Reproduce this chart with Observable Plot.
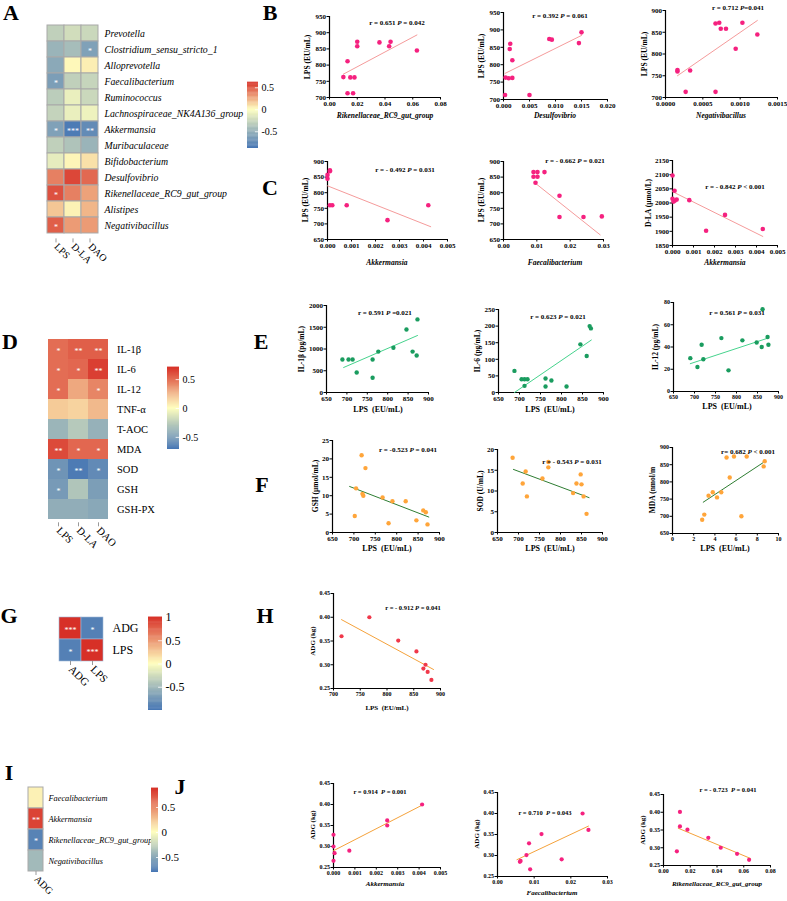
<!DOCTYPE html>
<html><head><meta charset="utf-8">
<script src="https://cdn.jsdelivr.net/npm/d3@7"></script>
<script src="https://cdn.jsdelivr.net/npm/@observablehq/plot@0.6"></script>
<style>
body{margin:0;background:#fff;}
#root{position:relative;width:787px;height:901px;overflow:hidden;background:#fff;}
</style></head>
<body><div id="root"></div>
<script>
// ---------------- DATA ----------------
// Heatmap A
const colsA = ["LPS","D-LA","DAO"];
const rowsA = ["Prevotella","Clostridium_sensu_stricto_1","Alloprevotella","Faecalibacterium","Ruminococcus","Lachnospiraceae_NK4A136_group","Akkermansia","Muribaculaceae","Bifidobacterium","Desulfovibrio","Rikenellaceae_RC9_gut_group","Alistipes","Negativibacillus"];
const A_LPS = [-0.30,-0.48,-0.55,-0.62,-0.32,-0.28,-0.60,-0.30,-0.12,0.38,0.52,0.17,0.48];
const A_DLA = [-0.22,-0.42,0.02,-0.30,-0.10,-0.10,-0.84,-0.38,0.03,0.55,0.38,0.04,0.30];
const A_DAO = [-0.25,-0.60,0.05,-0.27,-0.25,-0.08,-0.74,-0.48,0.09,0.45,0.28,0.22,0.30];
const sigA_LPS = ["","","","*","","","*","","","","*","","*"];
const sigA_DLA = ["","","","","","","***","","","","","",""];
const sigA_DAO = ["","*","","","","","**","","","","","",""];
const legA = [-0.88, 0.62], legTicksA = [0.5, 0, -0.5];
// Heatmap D
const colsD = ["LPS","D-LA","DAO"];
const rowsD = ["IL-1β","IL-6","IL-12","TNF-α","T-AOC","MDA","SOD","GSH","GSH-PX"];
const D_LPS = [0.50,0.50,0.50,0.18,-0.38,0.62,-0.55,-0.52,-0.42];
const D_DLA = [0.55,0.52,0.30,0.15,-0.28,0.52,-0.68,-0.30,-0.42];
const D_DAO = [0.55,0.66,0.42,0.24,-0.40,0.52,-0.60,-0.50,-0.45];
const sigD_LPS = ["*","*","*","","","**","*","*",""];
const sigD_DLA = ["**","*","","","","*","**","",""];
const sigD_DAO = ["**","**","*","","","*","*","",""];
const legD = [-0.71, 0.71], legTicksD = [0.5, 0, -0.5];
// Heatmap G
const colsG = ["ADG","LPS"];
const rowsG = ["ADG","LPS"];
const G_ADG = [1, -0.92];
const G_LPS = [-0.92, 1];
const sigG_ADG = ["***","*"];
const sigG_LPS = ["*","***"];
const legG = [-1, 1], legTicksG = [1, 0.5, 0, -0.5];
// Heatmap I
const colsI = ["ADG"];
const rowsI = ["Faecalibacterium","Akkermansia","Rikenellaceae_RC9_gut_group","Negativibacillus"];
const I_ADG = [0.06, 0.80, -0.72, -0.40];
const sigI_ADG = ["","**","*",""];
const legI = [-0.8, 0.88], legTicksI = [0.5, 0, -0.5];

// Scatter B
const b1x = [0.010,0.013,0.013,0.015,0.017,0.018,0.020,0.020,0.036,0.043,0.044,0.063];
const b1y = [763,812,713,762,713,762,872,858,870,858,872,845];
const b1lx = [0.010,0.063], b1ly = [772,893];
const b2x = [0.0013,0.0012,0.0017,0.0017,0.0004,0.0010,0.0003,0.0050,0.0088,0.0093,0.0145,0.0150];
const b2y = [860,845,813,762,763,761,713,713,874,872,862,893];
const b2lx = [0.0003,0.0150], b2ly = [775,884];
const b3x = [0.00016,0.00016,0.00033,0.00027,0.00067,0.00067,0.00072,0.00074,0.00081,0.00094,0.00103,0.00123];
const b3y = [763,760,762,713,713,870,872,858,858,812,872,845];
const b3lx = [0.00016,0.00123], b3ly = [750,877];
// Scatter C
const c1x = [0.0001,0.0001,0.0000,0.0000,0.0001,0.0002,0.0008,0.0025,0.0042];
const c1y = [872,869,857,845,760,760,760,712,760];
const c1lx = [0.0000,0.0043], c1ly = [822,691];
const c2x = [0.0090,0.0102,0.0123,0.0090,0.0102,0.0096,0.0168,0.0168,0.0240,0.0295];
const c2y = [866,866,866,851,851,832,790,722,722,724];
const c2lx = [0.0096,0.0290], c2ly = [830,665];
const c3x = [0.0000,0.0001,0.0000,0.0001,0.0002,0.00005,0.0008,0.0025,0.0016,0.0043];
const c3y = [2097,2043,2015,2008,2012,2005,2010,1958,1902,1908];
const c3lx = [0.0000,0.0043], c3ly = [2040,1882];
// Scatter E
const e1x = [689,704,714,763,777,814,846,861,871,873,724,763];
const e1y = [760,760,760,760,940,1030,1450,940,850,1680,460,340];
const e1lx = [692,873], e1ly = [575,1310];
const e2x = [688,705,712,719,712,762,776,762,812,867,870,845,860];
const e2y = [65,40,40,40,20,42,36,18,18,200,193,145,110];
const e2lx = [688,871], e2ly = [0,158];
const e3x = [690,717,721,764,814,848,860,862,874,876,707,781];
const e3y = [30,42,29,48,46,44,40,74,49,42,22,19];
const e3lx = [690,875], e3ly = [25,48];
// Scatter F
const f1x = [718,727,705,720,722,702,767,790,821,781,846,862,868,872];
const f1y = [21,17.5,12,10.5,10,4.5,9.5,8.5,8.5,2.5,3.3,6,5.5,2.2];
const f1lx = [690,875], f1ly = [12.5,4.2];
const f2x = [686,717,710,771,771,757,848,838,850,720,830,855,862];
const f2y = [18,14.7,11.8,17,15.7,13,14,11.8,11.6,8.7,9.5,8.7,4.5];
const f2lx = [688,868], f2ly = [15.2,8.4];
const f3x = [5.1,5.8,7.0,8.7,8.6,5.4,2.8,3.0,3.4,3.8,4.2,4.6,6.5];
const f3y = [871,874,874,860,845,813,690,705,760,770,755,770,700];
const f3lx = [2.9,8.6], f3ly = [741,857];
// Scatter H
const hx = [715,767,821,855,872,868,876,883];
const hy = [0.36,0.40,0.351,0.328,0.30,0.292,0.285,0.268];
const hlx = [715,887], hly = [0.395,0.29];
// Scatter J
const j1x = [0.00414,0.00251,0.00251,0.0000,0.0000,0.00005,0.0000,0.00074];
const j1y = [0.40,0.362,0.35,0.328,0.30,0.284,0.266,0.29];
const j1lx = [0.0000,0.0042], j1ly = [0.29,0.40];
const j2x = [0.0061,0.0063,0.0079,0.0086,0.0120,0.0089,0.0175,0.0232,0.0248];
const j2y = [0.285,0.287,0.301,0.329,0.351,0.267,0.291,0.40,0.361];
const j2lx = [0.0053,0.0248], j2ly = [0.29,0.37];
const j3x = [0.0123,0.0123,0.0179,0.0100,0.0335,0.0428,0.0550,0.0640];
const j3y = [0.401,0.360,0.351,0.290,0.328,0.300,0.283,0.266];
const j3lx = [0.011,0.065], j3ly = [0.355,0.27];

// tick label lists
const tLPS_B = [700,750,800,850,900,950];
const tLPS_B3 = [700,750,800,850,900];
const tLPS_C = [650,700,750,800,850,900];
const tDLA_C = [1850,1900,1950,2000,2050,2100,2150];
const tX_B1 = [0,0.02,0.04,0.06,0.08];
const tX_B2 = [0,0.005,0.01,0.015,0.02];
const tX_B3 = [0,0.0005,0.001,0.0015];
const tX_akk = [0,0.001,0.002,0.003,0.004,0.005];
const tX_fae = [0,0.01,0.02,0.03];
const tX_LPS = [650,700,750,800,850,900];
const tY_IL1 = [0,500,1000,1500,2000];
const tY_IL6 = [0,50,100,150,200,250];
const tY_IL12 = [0,20,40,60,80];
const tY_GSH = [0,5,10,15,20,25];
const tY_SOD = [0,5,10,15,20];
const tY_MDA = [650,700,750,800,850,900];
const tX_MDA = [0,2,4,6,8,10];
const tX_H = [700,750,800,850,900];
const tY_ADG = [0.25,0.30,0.35,0.40,0.45];
const tX_J3 = [0,0.02,0.04,0.06,0.08];

// ---------------- DRAWING ----------------
const FONT = "'Liberation Serif','Times New Roman',serif";
const BLUE = "#4575b4", YEL = "#ffffbf", RED = "#d73027";
const PINK = "#f5217f", SALMON = "#f59b9b", GREEN = "#1a9c5f", LGREEN = "#46d38d",
      ORANGE = "#ffa53a", DGREEN = "#2e7d32", HRED = "#f0384a", LORANGE = "#f5a23b";
const root = document.getElementById("root");

function put(svg, x, y){ svg.style.position = "absolute"; svg.style.left = x + "px"; svg.style.top = y + "px"; root.appendChild(svg); }
function T(html, x, y, o = {}){
  const d = document.createElement("div");
  d.innerHTML = html;
  Object.assign(d.style, {position:"absolute", left:x+"px", top:y+"px",
    transform:"translate(-50%,-50%)" + (o.rot ? " rotate(-90deg)" : ""),
    fontFamily:FONT, fontSize:(o.fs||8)+"px", fontWeight:o.w||"bold",
    fontStyle:o.it ? "italic" : "normal", whiteSpace:"nowrap", lineHeight:"1", color:"#000"});
  root.appendChild(d);
}

function heatmap(o){
  const cells = [];
  o.rows.forEach((r,i) => o.cols.forEach((c,j) => cells.push({row:r, col:c, v:o.vals[j][i], s:o.sig[j][i]})));
  const W = o.cols.length*o.cw, H = o.rows.length*o.ch;
  const ml = 2, mt = 2;
  const svg = Plot.plot({
    width: W+ml+o.mr, height: H+mt+o.mb, marginLeft:ml, marginTop:mt, marginRight:o.mr, marginBottom:o.mb,
    x:{type:"band", domain:o.cols, padding:0},
    y:{type:"band", domain:o.rows, padding:0},
    color:{type:"linear", domain:[o.d[0],0,o.d[1]], range:[BLUE,YEL,RED], interpolate:"rgb", clamp:true},
    style:{fontFamily:FONT, fontSize:o.fs+"px", background:"transparent", color:"#000", overflow:"visible"},
    marks:[
      Plot.cell(cells, {x:"col", y:"row", fill:"v", stroke:o.stroke||"none", strokeWidth:o.sw||0}),
      Plot.text(cells.filter(d => d.s), {x:"col", y:"row", text:"s", fill:"white", fontSize:o.sf, dy:1.5}),
      Plot.axisY({anchor:"right", tickSize:0, tickPadding:o.tp, label:null, fontStyle:o.italic ? "italic" : "normal", fontSize:o.fs}),
      Plot.axisX({anchor:"bottom", tickRotate:45, tickSize:4, tickPadding:2, label:null, fontSize:o.cfs, stroke:"#999"})
    ]
  });
  put(svg, o.left-ml, o.top-mt);
}

function colorbar(o){
  const n = 80, step = (o.d[1]-o.d[0])/n;
  const slices = d3.range(n).map(i => ({a:o.d[0]+i*step, b:o.d[0]+(i+1)*step + step*0.4, m:o.d[0]+(i+0.5)*step}));
  const svg = Plot.plot({
    width:o.w+1+34, height:o.h+4, marginLeft:1, marginRight:34, marginTop:2, marginBottom:2,
    x:{domain:[0,1], axis:null},
    y:{domain:o.d},
    color:{type:"linear", domain:[o.d[0],0,o.d[1]], range:[BLUE,YEL,RED], interpolate:"rgb", clamp:true},
    style:{fontFamily:FONT, fontSize:o.fs+"px", background:"transparent", color:"#000", overflow:"visible"},
    marks:[
      Plot.rect(slices, {x1:0, x2:1, y1:"a", y2:"b", fill:"m"}),
      Plot.ruleY(o.ticks.filter(t => t < o.d[1]), {x1:0.72, x2:1, stroke:"white", strokeWidth:0.8}),
      Plot.axisY({anchor:"right", ticks:o.ticks, tickFormat:d => String(d), tickSize:0, tickPadding:3, label:null, fontSize:o.fs})
    ]
  });
  put(svg, o.left-1, o.top-2);
}

function scatter(o){
  const ml = 36, mr = 12, mt = 6, mb = 16;
  const W = o.right-o.left+ml+mr, H = o.bottom-o.top+mt+mb;
  const pts = o.xs.map((x,i) => ({x, y:o.ys[i]}));
  const ln = o.lx.map((x,i) => ({x, y:o.ly[i]}));
  const fx = d3.format(o.xf), fy = d3.format(o.yf);
  const svg = Plot.plot({
    width:W, height:H, marginLeft:ml, marginRight:mr, marginTop:mt, marginBottom:mb,
    x:{domain:o.xd}, y:{domain:o.yd},
    style:{fontFamily:FONT, fontSize:o.fs+"px", fontWeight:"bold", background:"transparent", color:"#000", overflow:"visible"},
    marks:[
      Plot.axisX({ticks:o.xt, tickFormat:fx, tickSize:2.5, tickPadding:1, label:null, fontSize:o.fs, fontWeight:"bold"}),
      Plot.axisY({ticks:o.yt, tickFormat:fy, tickSize:2.5, tickPadding:1, label:null, fontSize:o.fs, fontWeight:"bold"}),
      Plot.ruleX([o.xd[0]], {y1:o.yd[0], y2:o.yd[1], stroke:"#000", strokeWidth:1.2}),
      Plot.ruleY([o.yd[0]], {x1:o.xd[0], x2:o.xd[1], stroke:"#000", strokeWidth:1.2}),
      Plot.line(ln, {x:"x", y:"y", stroke:o.lc, strokeWidth:1}),
      Plot.dot(pts, {x:"x", y:"y", r:o.r||2.2, fill:o.pc})
    ]
  });
  put(svg, o.left-ml, o.top-mt);
  T(o.ann[0], o.ann[1], o.ann[2], {fs:o.afs||7});
  T(o.yl, o.left-o.ylo, (o.top+o.bottom)/2, {rot:true, fs:o.ylfs||7.5});
  T(o.xl[0], o.xl[1], o.xl[2], {fs:o.xlfs||7.5, it:o.xl[3]});
}

// heatmaps
heatmap({rows:rowsA, cols:colsA, vals:[A_LPS,A_DLA,A_DAO], sig:[sigA_LPS,sigA_DLA,sigA_DAO], d:legA,
  left:47, top:20, cw:17, ch:16.8, mr:170, mb:34, fs:9.8, cfs:10, sf:8, tp:6, italic:true, stroke:"#a9a9a9", sw:1});
colorbar({left:247, top:82, w:11, h:66, d:legA, ticks:legTicksA, fs:10});

heatmap({rows:rowsD, cols:colsD, vals:[D_LPS,D_DLA,D_DAO], sig:[sigD_LPS,sigD_DLA,sigD_DAO], d:legD,
  left:47, top:336, cw:20.5, ch:20.7, mr:60, mb:34, fs:10.5, cfs:10.5, sf:8, tp:8, italic:false});
colorbar({left:167, top:367, w:12, h:82, d:legD, ticks:legTicksD, fs:10});

heatmap({rows:rowsG, cols:colsG, vals:[G_ADG,G_LPS], sig:[sigG_ADG,sigG_LPS], d:legG,
  left:58, top:616, cw:22.5, ch:22.5, mr:50, mb:34, fs:12, cfs:11, sf:8, tp:9, italic:false, stroke:"#9fb7d8", sw:0.6});
colorbar({left:148, top:617, w:14, h:93, d:legG, ticks:legTicksG, fs:12});

heatmap({rows:rowsI, cols:colsI, vals:[I_ADG], sig:[sigI_ADG], d:legI,
  left:28, top:787, cw:15, ch:21, mr:100, mb:34, fs:8.3, cfs:10, sf:8, tp:5, italic:true, stroke:"#a9a9a9", sw:1});
colorbar({left:151, top:788, w:7, h:84, d:legI, ticks:legTicksI, fs:11});

// scatter plots
const scat = [
  {left:329,right:440,top:16,bottom:97, xd:[0,0.08], xt:tX_B1, xf:".2f", yd:[700,950], yt:tLPS_B, yf:"d", xs:b1x, ys:b1y, lx:b1lx, ly:b1ly, pc:PINK, lc:SALMON, r:2.3, fs:7,
   ann:["r = 0.651 <i>P</i> = 0.042",397,23], yl:"LPS (EU/mL)", ylo:21, xl:["Rikenellaceae_RC9_gut_group",385,116,true]},
  {left:503,right:607,top:12,bottom:99, xd:[0,0.02], xt:tX_B2, xf:".3f", yd:[700,950], yt:tLPS_B, yf:"d", xs:b2x, ys:b2y, lx:b2lx, ly:b2ly, pc:PINK, lc:SALMON, r:2.3, fs:7,
   ann:["r = 0.392 <i>P</i> = 0.061",560,16], yl:"LPS (EU/mL)", ylo:21, xl:["Desulfovibrio",555,116,true]},
  {left:665,right:777,top:10,bottom:97, xd:[0,0.0015], xt:tX_B3, xf:".4f", yd:[700,900], yt:tLPS_B3, yf:"d", xs:b3x, ys:b3y, lx:b3lx, ly:b3ly, pc:PINK, lc:SALMON, r:2.3, fs:7,
   ann:["r = 0.712 <i>P</i>=0.041",738,8], yl:"LPS (EU/mL)", ylo:20, xl:["Negativibacillus",721,116,true]},
  {left:327,right:447,top:161,bottom:239, xd:[0,0.005], xt:tX_akk, xf:".3f", yd:[650,900], yt:tLPS_C, yf:"d", xs:c1x, ys:c1y, lx:c1lx, ly:c1ly, pc:PINK, lc:SALMON, r:2.3, fs:7,
   ann:["r = - 0.492 <i>P</i> = 0.031",405,170], yl:"LPS (EU/mL)", ylo:21, xl:["Akkermansia",387,263,true]},
  {left:503,right:603,top:161,bottom:239, xd:[0,0.03], xt:tX_fae, xf:".2f", yd:[650,900], yt:tLPS_C, yf:"d", xs:c2x, ys:c2y, lx:c2lx, ly:c2ly, pc:PINK, lc:SALMON, r:2.3, fs:7,
   ann:["r = - 0.662 <i>P</i> = 0.021",575,161], yl:"LPS (EU/mL)", ylo:21, xl:["Faecalibacterium",555,263,true]},
  {left:672,right:777,top:160,bottom:245, xd:[0,0.005], xt:tX_akk, xf:".3f", yd:[1850,2150], yt:tDLA_C, yf:"d", xs:c3x, ys:c3y, lx:c3lx, ly:c3ly, pc:PINK, lc:SALMON, r:2.3, fs:7,
   ann:["r = - 0.842 <i>P</i> &lt; 0.001",735,187], yl:"D-LA (μmol/L)", ylo:23, xl:["Akkermansia",725,263,true]},
  {left:326,right:428,top:305,bottom:392, xd:[650,900], xt:tX_LPS, xf:"d", yd:[0,2000], yt:tY_IL1, yf:"d", xs:e1x, ys:e1y, lx:e1lx, ly:e1ly, pc:GREEN, lc:LGREEN, r:2.2, fs:7,
   ann:["r = 0.591 <i>P</i> =0.021",385,313], yl:"IL-1β (pg/mL)", ylo:24, xl:["LPS&nbsp; (EU/mL)",378,410,false], xlfs:8},
  {left:498,right:603,top:309,bottom:392, xd:[650,900], xt:tX_LPS, xf:"d", yd:[0,250], yt:tY_IL6, yf:"d", xs:e2x, ys:e2y, lx:e2lx, ly:e2ly, pc:GREEN, lc:LGREEN, r:2.2, fs:7,
   ann:["r = 0.623 <i>P</i> = 0.021",558,317], yl:"IL-6 (pg/mL)", ylo:20, xl:["LPS&nbsp; (EU/mL)",550,410,false], xlfs:8},
  {left:673,right:778,top:302,bottom:391, xd:[650,900], xt:tX_LPS, xf:"d", yd:[0,80], yt:tY_IL12, yf:"d", xs:e3x, ys:e3y, lx:e3lx, ly:e3ly, pc:GREEN, lc:LGREEN, r:2.2, fs:6,
   ann:["r = 0.561 <i>P</i> = 0.031",737,313], yl:"IL-12 (pg/mL)", ylo:17, xl:["LPS&nbsp; (EU/mL)",727,407,false], xlfs:8},
  {left:332,right:439,top:440,bottom:532, xd:[650,900], xt:tX_LPS, xf:"d", yd:[0,25], yt:tY_GSH, yf:"d", xs:f1x, ys:f1y, lx:f1lx, ly:f1ly, pc:ORANGE, lc:DGREEN, r:2.2, fs:7,
   ann:["r = -0.523 <i>P</i> = 0.041",408,450], yl:"GSH (μmol/mL)", ylo:16, xl:["LPS&nbsp; (EU/mL)",387,549,false], xlfs:8},
  {left:497,right:602,top:449,bottom:532, xd:[650,900], xt:tX_LPS, xf:"d", yd:[0,20], yt:tY_SOD, yf:"d", xs:f2x, ys:f2y, lx:f2lx, ly:f2ly, pc:ORANGE, lc:DGREEN, r:2.2, fs:7,
   ann:["r = - 0.543 <i>P</i> = 0.031",572,462], yl:"SOD (U/mL)", ylo:16, xl:["LPS&nbsp; (EU/mL)",550,549,false], xlfs:8},
  {left:672,right:778,top:447,bottom:533, xd:[0,10], xt:tX_MDA, xf:"d", yd:[650,900], yt:tY_MDA, yf:"d", xs:f3x, ys:f3y, lx:f3lx, ly:f3ly, pc:ORANGE, lc:DGREEN, r:2.2, fs:6,
   ann:["r= 0.682 <i>P</i> &lt; 0.001",748,452], yl:"MDA (nmol/m", ylo:19, xl:["LPS&nbsp; (EU/mL)",725,549,false], xlfs:8},
  {left:333,right:440,top:593,bottom:688, xd:[700,900], xt:tX_H, xf:"d", yd:[0.25,0.45], yt:tY_ADG, yf:".2f", xs:hx, ys:hy, lx:hlx, ly:hly, pc:HRED, lc:LORANGE, r:2.1, fs:6,
   ann:["r = - 0.912 <i>P</i> = 0.041",413,608], afs:6.5, yl:"ADG (kg)", ylo:20, ylfs:7, xl:["LPS&nbsp; (EU/mL)",387,708,false], xlfs:7},
  {left:333,right:440,top:783,bottom:867, xd:[0,0.005], xt:tX_akk, xf:".3f", yd:[0.25,0.45], yt:tY_ADG, yf:".2f", xs:j1x, ys:j1y, lx:j1lx, ly:j1ly, pc:PINK, lc:LORANGE, r:2.1, fs:6,
   ann:["r = 0.914&nbsp; <i>P</i> = 0.001",380,792], afs:6.5, yl:"ADG (kg)", ylo:20, ylfs:7, xl:["Akkermansia",385,884,true], xlfs:7},
  {left:497,right:607,top:792,bottom:876, xd:[0,0.03], xt:tX_fae, xf:".2f", yd:[0.25,0.45], yt:tY_ADG, yf:".2f", xs:j2x, ys:j2y, lx:j2lx, ly:j2ly, pc:PINK, lc:LORANGE, r:2.1, fs:6,
   ann:["r = 0.710&nbsp; <i>P</i> = 0.043",545,813], afs:6.5, yl:"ADG (kg)", ylo:20, ylfs:7, xl:["Faecalibacterium",552,893,true], xlfs:7},
  {left:663,right:770,top:794,bottom:865, xd:[0,0.08], xt:tX_J3, xf:".2f", yd:[0.25,0.45], yt:tY_ADG, yf:".2f", xs:j3x, ys:j3y, lx:j3lx, ly:j3ly, pc:PINK, lc:LORANGE, r:2.1, fs:6,
   ann:["r = - 0.723&nbsp; <i>P</i> = 0.041",728,790], afs:6.5, yl:"ADG (kg)", ylo:20, ylfs:7, xl:["Rikenellaceae_RC9_gut_group",717,884,true], xlfs:7}
];
scat.forEach(scatter);

// panel letters
[["A",11,13],["B",270,13],["C",270,188],["D",10,342],["E",261,342],["F",262,485],["G",9,616],["H",265,616],["I",9,773],["J",180,787]]
  .forEach(([t,x,y]) => T(t, x, y, {fs:22}));
</script>
</body></html>
